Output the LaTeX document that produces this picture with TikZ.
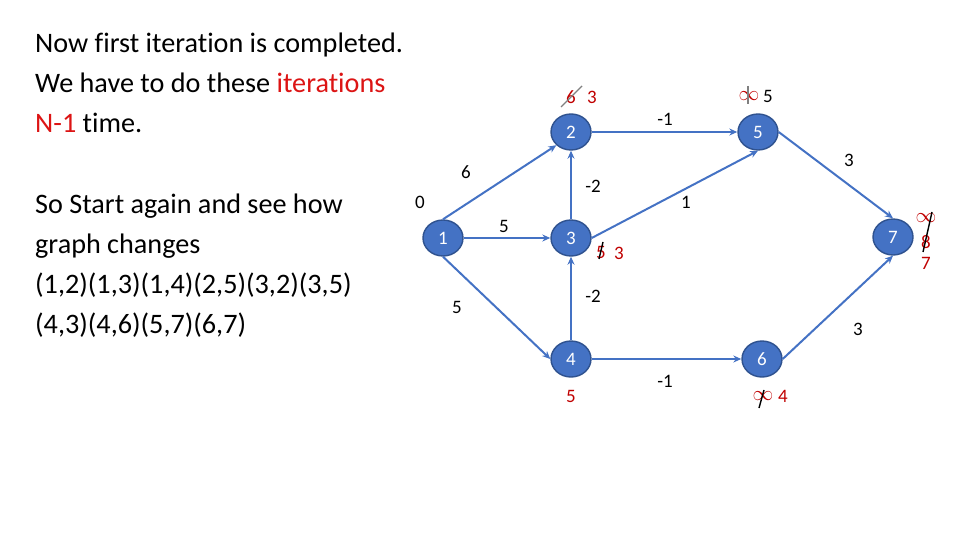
\documentclass[tikz,border=0pt]{standalone}
\usepackage{fontspec}
\setmainfont[Ligatures=NoCommon]{Carlito}
\usetikzlibrary{arrows.meta,shapes.geometric}
\definecolor{nodefill}{RGB}{68,114,196}
\definecolor{nodeline}{RGB}{47,82,143}
\definecolor{edgecol}{RGB}{68,114,196}
\definecolor{lblred}{RGB}{192,0,0}
\definecolor{txtred}{RGB}{220,20,20}
\begin{document}
\begin{tikzpicture}[x=1pt,y=-1pt,
  vert/.style={ellipse,fill=nodefill,draw=nodeline,line width=1.4pt,minimum width=40pt,minimum height=36pt,inner sep=0pt,text=white,font=\fontsize{19}{19}\selectfont},
  edge/.style={draw=edgecol,line width=2pt,-{Stealth[length=8pt,width=7pt]}},
  wlbl/.style={inner sep=0pt,font=\fontsize{19}{19}\selectfont},
  rlbl/.style={wlbl,text=lblred},
  inf/.style={inner sep=0pt,text=lblred,font=\fontsize{20}{20}\selectfont},
  big/.style={anchor=base west,inner sep=0pt,font=\fontsize{28.2}{28}\selectfont},
  strk/.style={line width=1.4pt}]
\useasboundingbox (0,0) rectangle (960,540);
% left text
\node[big] (t1) at (35,53) {Now first iteration is completed.};
\node[big] (t2) at (35,93) {We have to do these \textcolor{txtred}{iterations}};
\node[big] (t3) at (35,133) {\textcolor{txtred}{N-1} time.};
\node[big] (t4) at (35,213) {So Start again and see how};
\node[big] (t5) at (35,253) {graph changes};
\node[big] (t6) at (35,293) {(1,2)(1,3)(1,4)(2,5)(3,2)(3,5)};
\node[big] (t7) at (35,333) {(4,3)(4,6)(5,7)(6,7)};
% vertices
\node[vert] (n1) at (443,238) {1};
\node[vert] (n2) at (571,132) {2};
\node[vert] (n3) at (571,238) {3};
\node[vert] (n4) at (571,359) {4};
\node[vert] (n5) at (758,132) {5};
\node[vert] (n6) at (762,359) {6};
\node[vert] (n7) at (893,237) {7};
% edges
\draw[edge] (n1.north) -- (n2.south west);
\draw[edge] (n1) -- (n3);
\draw[edge] (n1.south) -- (n4.west);
\draw[edge] (n2) -- (n5);
\draw[edge] (n3) -- (n2);
\draw[edge] (n3.east) -- (n5.south);
\draw[edge] (n4) -- (n3);
\draw[edge] (n4) -- (n6);
\draw[edge] (n5.east) -- (n7.north);
\draw[edge] (n6.east) -- (n7.south);
% edge weights
\node[wlbl] (w12) at (466,172) {6};
\node[wlbl] (w0) at (420,202) {0};
\node[wlbl] (w13) at (504,226) {5};
\node[wlbl] (w14) at (457,307) {5};
\node[wlbl] (w32) at (593,186) {-2};
\node[wlbl] (w35) at (686,202) {1};
\node[wlbl] (w25) at (665,119) {-1};
\node[wlbl] (w57) at (849,160) {3};
\node[wlbl] (w43) at (593,296) {-2};
\node[wlbl] (w67) at (858,329) {3};
\node[wlbl] (w46) at (665,381) {-1};
% distance labels
\node[rlbl] (d2a) at (571,97) {6};
\node[rlbl] (d2b) at (592,97) {3};
\draw[strk,gray] (561,107) -- (582,86);
\node[inf] (d5a) at (749,96) {$\infty$};
\node[wlbl] (d5b) at (768,96) {5};
\draw[strk,gray] (748,86) -- (748,104);
\node[rlbl] (d3a) at (601,252) {5};
\node[rlbl] (d3b) at (619,253) {3};
\draw[strk,black] (603,242) -- (599,259);
\node[rlbl] (d4) at (571,396) {5};
\node[inf] (d6a) at (763,396) {$\infty$};
\node[rlbl] (d6b) at (783,396) {4};
\draw[strk,black] (764,390) -- (759,408);
\node[inf] (d7a) at (926,218) {$\infty$};
\node[rlbl] (d7b) at (926,242) {8};
\node[rlbl] (d7c) at (926,263) {7};
\draw[strk,black] (932,212) -- (923,252);
\end{tikzpicture}
\end{document}
